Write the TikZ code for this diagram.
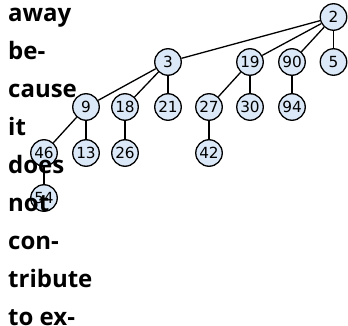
\documentclass[tikz,border=0pt]{standalone}
\usepackage{fontspec}
\newfontfamily\txtfont{Open Sans}
\newfontfamily\numfont{DejaVu Sans}
\definecolor{nodefill}{RGB}{219,232,247}
\begin{document}
\begin{tikzpicture}[x=1pt,y=-1pt,
  hn/.style={circle,draw=black,line width=1.3pt,fill=nodefill,minimum size=26.5pt,inner sep=0pt,font=\numfont\fontsize{15.3}{16}\selectfont},
  edge/.style={line width=1.3pt},
  word/.style={anchor=base west,inner sep=0pt,font=\txtfont\bfseries\fontsize{24}{26}\selectfont}]
\useasboundingbox (0,0) rectangle (348,326);
\node[hn] (n2) at (333.5,17) {2};
\node[hn] (n3) at (168,62) {3};
\node[hn] (n19) at (250,62) {19};
\node[hn] (n90) at (292,62) {90};
\node[hn] (n5) at (333.5,62) {5};
\node[hn] (n9) at (86,107) {9};
\node[hn] (n18) at (125,107) {18};
\node[hn] (n21) at (168,107) {21};
\node[hn] (n27) at (209,107) {27};
\node[hn] (n30) at (250,107) {30};
\node[hn] (n94) at (292,107) {94};
\node[hn] (n46) at (44,153) {46};
\node[hn] (n13) at (86,153) {13};
\node[hn] (n26) at (125,153) {26};
\node[hn] (n42) at (209,153) {42};
\node[hn] (n54) at (44,198) {54};
\foreach \a/\b in {n2/n3,n2/n19,n2/n90,n2/n5,n3/n9,n3/n18,n3/n21,n19/n27,n19/n30,n90/n94,n9/n46,n9/n13,n18/n26,n27/n42,n46/n54}
  \draw[edge] (\a) -- (\b);
\node[word] (w1) at (8,22) {away};
\node[word] (w2) at (8,59.9) {be-};
\node[word] (w3) at (8,97.8) {cause};
\node[word] (w4) at (8,135.7) {it};
\node[word] (w5) at (8,173.6) {does};
\node[word] (w6) at (8,211.5) {not};
\node[word] (w7) at (8,249.4) {con-};
\node[word] (w8) at (8,287.3) {tribute};
\node[word] (w9) at (8,325.2) {to ex-};
\end{tikzpicture}
\end{document}
